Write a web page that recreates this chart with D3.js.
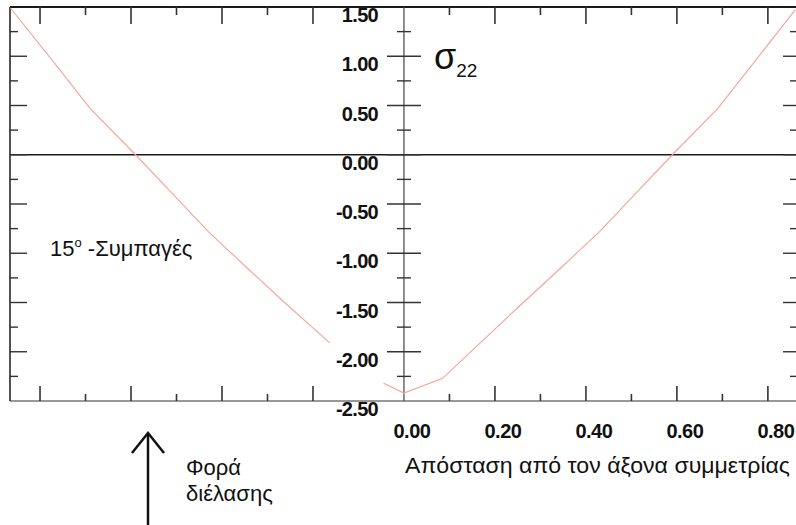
<!DOCTYPE html>
<html>
<head>
<meta charset="utf-8">
<script src="https://cdn.jsdelivr.net/npm/d3@7"></script>
<style>
  body { margin: 0; background: #fff; }
  svg { display: block; font-family: "Liberation Sans", Arial, sans-serif; }
</style>
</head>
<body>
<div id="chart"></div>
<script>
// distances from the symmetry axis and sigma22 values
var rightDist  = [-0.045, 0, 0.085, 0.17, 0.26, 0.34, 0.43, 0.51, 0.59, 0.69, 0.77, 0.86];
var rightSigma = [-2.32, -2.42, -2.27, -1.90, -1.51, -1.17, -0.78, -0.39, 0.00, 0.47, 0.94, 1.47];
var leftDist   = [0.865, 0.77, 0.69, 0.59, 0.51, 0.43, 0.34, 0.26, 0.163];
var leftSigma  = [1.49, 0.94, 0.47, 0.00, -0.39, -0.78, -1.17, -1.51, -1.91];

var yLabels = [1.5, 1.0, 0.5, 0.0, -0.5, -1.0, -1.5, -2.0, -2.5];
var xLabels = [0, 0.2, 0.4, 0.6, 0.8];

var width = 796, height = 525;

var svg = d3.select("#chart").append("svg")
	.attr("width", width)
	.attr("height", height);

var x = d3.scaleLinear()
	.domain([-0.866, 0.864])
	.range([10, 797]);

var y = d3.scaleLinear()
	.domain([-2.5, 1.5])
	.range([401, 7]);

var ink = "#1a1a1a";
var fmt = function(d){ return d3.format(".2f")(d).replace("−", "-"); };

// y ticks every 0.25
var yTicks = d3.range(-2.25, 1.5, 0.25);
var isMajor = function(v){ return Math.abs(v * 2 - Math.round(v * 2)) < 1e-6; };

// frame
svg.append("line").attr("x1", x(-0.866)).attr("x2", 800).attr("y1", y(1.5)).attr("y2", y(1.5))
	.style("stroke", ink).style("stroke-width", 2);
svg.append("line").attr("x1", x(-0.866)).attr("x2", 800).attr("y1", y(-2.5)).attr("y2", y(-2.5))
	.style("stroke", "#333").style("stroke-width", 1.2);
svg.append("line").attr("x1", x(-0.866)).attr("x2", x(-0.866)).attr("y1", y(1.5)).attr("y2", y(-2.5))
	.style("stroke", ink).style("stroke-width", 1.5);
svg.append("line").attr("x1", x(-0.866)).attr("x2", 800).attr("y1", y(0)).attr("y2", y(0))
	.style("stroke", ink).style("stroke-width", 1.3);

// central axis
svg.append("line").attr("x1", x(0)).attr("x2", x(0)).attr("y1", y(1.5)).attr("y2", y(-2.5))
	.style("stroke", "#444").style("stroke-width", 1.2);

svg.selectAll("line.cTick")
	.data(yTicks)
	.enter().append("line")
	.attr("class", "cTick")
	.attr("x1", function(d){ return x(0) - (isMajor(d) ? 17 : 7); })
	.attr("x2", function(d){ return x(0) + (isMajor(d) ? 17 : 7); })
	.attr("y1", function(d){ return y(d); })
	.attr("y2", function(d){ return y(d); })
	.style("stroke", "#333").style("stroke-width", 1.4);

// left and right edge ticks
svg.selectAll("line.lTick")
	.data(yTicks)
	.enter().append("line")
	.attr("class", "lTick")
	.attr("x1", x(-0.866))
	.attr("x2", function(d){ return x(-0.866) + (isMajor(d) ? 17 : 8); })
	.attr("y1", function(d){ return y(d); })
	.attr("y2", function(d){ return y(d); })
	.style("stroke", "#333").style("stroke-width", 1.4);

svg.selectAll("line.rTick")
	.data(yTicks)
	.enter().append("line")
	.attr("class", "rTick")
	.attr("x1", function(d){ return 797 - (isMajor(d) ? 14 : 7); })
	.attr("x2", 797)
	.attr("y1", function(d){ return y(d); })
	.attr("y2", function(d){ return y(d); })
	.style("stroke", "#333").style("stroke-width", 1.4);

// top and bottom ticks, right panel 0.1..0.8, left panel -0.2..-0.8
var xTicks = d3.range(1, 9).map(function(i){ return i / 10; })
	.concat(d3.range(2, 9).map(function(i){ return -i / 10; }));
var xMajor = function(v){ return Math.round(Math.abs(v) * 10) % 2 === 0; };

svg.selectAll("line.tTick")
	.data(xTicks)
	.enter().append("line")
	.attr("class", "tTick")
	.attr("x1", function(d){ return x(d); })
	.attr("x2", function(d){ return x(d); })
	.attr("y1", y(1.5))
	.attr("y2", function(d){ return y(1.5) + (xMajor(d) ? 17 : 8); })
	.style("stroke", "#333").style("stroke-width", 1.6);

svg.selectAll("line.bTick")
	.data(xTicks)
	.enter().append("line")
	.attr("class", "bTick")
	.attr("x1", function(d){ return x(d); })
	.attr("x2", function(d){ return x(d); })
	.attr("y1", y(-2.5))
	.attr("y2", function(d){ return y(-2.5) - (xMajor(d) ? 15 : 7); })
	.style("stroke", "#333").style("stroke-width", 1.6);

// y labels
svg.selectAll("text.yLab")
	.data(yLabels)
	.enter().append("text")
	.attr("class", "yLab")
	.attr("x", 378)
	.attr("y", function(d){ return y(d) + 15; })
	.attr("text-anchor", "end")
	.style("font-size", "20px")
	.style("font-weight", "bold")
	.style("letter-spacing", "-0.7px")
	.style("fill", "#111")
	.text(fmt);

// x labels
svg.selectAll("text.xLab")
	.data(xLabels)
	.enter().append("text")
	.attr("class", "xLab")
	.attr("x", function(d){ return x(d) + 8; })
	.attr("y", 438)
	.attr("text-anchor", "middle")
	.style("font-size", "20px")
	.style("font-weight", "bold")
	.style("letter-spacing", "-0.5px")
	.style("fill", "#111")
	.text(fmt);

// curves
var line = d3.line()
	.x(function(d){ return x(d[0]); })
	.y(function(d){ return y(d[1]); });

var rightData = rightDist.map(function(d, i){ return [d, rightSigma[i]]; });
var leftData = leftDist.map(function(d, i){ return [-d, leftSigma[i]]; });

svg.append("path")
	.attr("d", line(leftData))
	.attr("fill", "none")
	.style("stroke", "#f3a595")
	.style("stroke-width", 1.1);

svg.append("path")
	.attr("d", line(rightData))
	.attr("fill", "none")
	.style("stroke", "#f3a595")
	.style("stroke-width", 1.1);

// annotations
var sig = svg.append("text")
	.attr("x", 434)
	.attr("y", 69)
	.style("fill", "#111");
sig.append("tspan").style("font-size", "36px").text("σ");
sig.append("tspan").attr("dy", 8).style("font-size", "19px").text("22");

var lab = svg.append("text")
	.attr("x", 50)
	.attr("y", 256)
	.style("font-size", "22px")
	.style("fill", "#111");
lab.append("tspan").text("15");
lab.append("tspan").attr("dy", -9).style("font-size", "13px").text("ο");
lab.append("tspan").attr("dy", 9).text(" -Συμπαγές");

svg.append("text")
	.attr("x", 405)
	.attr("y", 473)
	.attr("textLength", 385)
	.attr("lengthAdjust", "spacingAndGlyphs")
	.style("font-size", "22px")
	.style("fill", "#111")
	.text("Απόσταση από τον άξονα συμμετρίας");

svg.append("text")
	.attr("x", 186)
	.attr("y", 475)
	.style("font-size", "22px")
	.style("fill", "#111")
	.text("Φορά");

svg.append("text")
	.attr("x", 186)
	.attr("y", 501)
	.style("font-size", "22px")
	.style("fill", "#111")
	.text("διέλασης");

// arrow
svg.append("line")
	.attr("x1", 148).attr("x2", 148).attr("y1", 433).attr("y2", 525)
	.style("stroke", "#111").style("stroke-width", 2.5);
svg.append("path")
	.attr("d", "M132,453 L148,433 L164,453")
	.attr("fill", "none")
	.style("stroke", "#111").style("stroke-width", 2.5);
</script>
</body>
</html>
